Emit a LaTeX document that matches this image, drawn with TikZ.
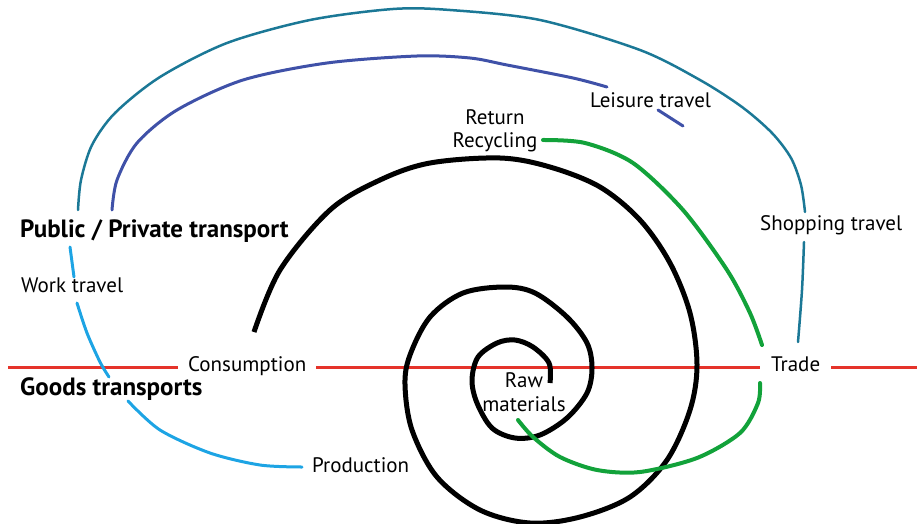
\documentclass[tikz,border=0pt]{standalone}
\usepackage{fontspec}
\setmainfont{PT Sans}
\definecolor{axisred}{HTML}{E5332A}
\definecolor{shopteal}{HTML}{1B7896}
\definecolor{leisureblue}{HTML}{3F51A8}
\definecolor{workblue}{HTML}{1DA4E4}
\definecolor{returngreen}{HTML}{12A23A}
\begin{document}
\begin{tikzpicture}[x=1pt,y=-1pt,
  lbl/.style={inner sep=0pt,font=\fontsize{21}{23.5}\selectfont},
  head/.style={inner sep=0pt,font=\fontsize{25}{28}\selectfont\bfseries},
  axis/.style={axisred,line width=3pt},
  spiral/.style={line width=5pt},
  flow/.style={line width=#1,line cap=round}]
\useasboundingbox (0,0) rectangle (917,524);
\node[head,anchor=base west] (pub) at (20,237) {Public / Private transport};
\node[head,anchor=base west] (goods) at (20,395) {Goods transports};
\node[lbl,anchor=base west] (work) at (21,292) {Work travel};
\node[lbl,anchor=base west] (cons) at (188,371) {Consumption};
\node[lbl,anchor=base west] (trade) at (771,371) {Trade};
\node[lbl,anchor=base west] (prod) at (312,472) {Production};
\node[lbl,anchor=base west] (leis) at (590,107) {Leisure travel};
\node[lbl,anchor=base west] (shop) at (760,230) {Shopping travel};
\node[lbl,align=center] (raw) at (524,392) {Raw\\materials};
\node[lbl,align=center] (ret) at (495,131) {Return\\Recycling};
\coordinate (axL) at (8,367);
\coordinate (axR) at (917,367);
\draw[axis,shorten >=10pt] (axL) -- (axL -| cons.west);
\draw[axis,shorten <=10pt,shorten >=11pt] (axL -| cons.east) -- (axL -| trade.west);
\draw[axis,shorten <=11pt] (axL -| trade.east) -- (axR);
\draw[spiral] plot[smooth,tension=0.55] coordinates {(550,383) (549,363) (533,347) (515,340) (497,343) (478,357) (472,380) (477,403) (492,428) (515,438) (540,435) (567,418) (587,393) (592,368) (587,343) (567,317) (535,293) (505,287) (463,293) (430,317) (410,355) (405,385) (412,430) (437,477) (480,510) (530,523) (580,517) (630,497) (667,460) (690,410) (697,365) (690,313) (670,263) (640,220) (600,187) (550,167) (500,158) (430,163) (380,180) (330,210) (280,270) (254,332)};
\draw[flow=4pt,returngreen] plot[smooth] coordinates {(543,140) (585,143) (633,163) (683,210) (727,270) (750,313) (762,345)};
\draw[flow=4pt,returngreen] plot[smooth] coordinates {(760,383) (758,403) (740,433) (697,458) (640,472) (597,470) (560,457) (533,437) (518,420)};
\draw[flow=2.5pt,shopteal] plot[smooth] coordinates {(78,210) (81,180) (92,145) (115,113) (160,77) (227,43) (310,20) (393,9) (450,10) (540,20) (640,50) (700,80) (742,107) (772,133) (791,158) (801,185) (805,212)};
\draw[flow=2.5pt,shopteal] plot[smooth] coordinates {(804,242) (802,290) (798,342)};
\draw[flow=3pt,leisureblue] plot[smooth] coordinates {(112,210) (117,180) (137,143) (177,110) (243,80) (327,63) (417,56) (470,58) (507,65) (573,78) (607,87)};
\draw[flow=3pt,leisureblue] (658,110) -- (683,126);
\draw[flow=3pt,workblue] plot[smooth] coordinates {(70,247) (72,262) (74,277)};
\draw[flow=3pt,workblue] plot[smooth] coordinates {(77,303) (87,333) (100,362) (109,377)};
\draw[flow=3pt,workblue] plot[smooth] coordinates {(128,401) (160,430) (210,453) (260,465) (302,467)};
\end{tikzpicture}
\end{document}
